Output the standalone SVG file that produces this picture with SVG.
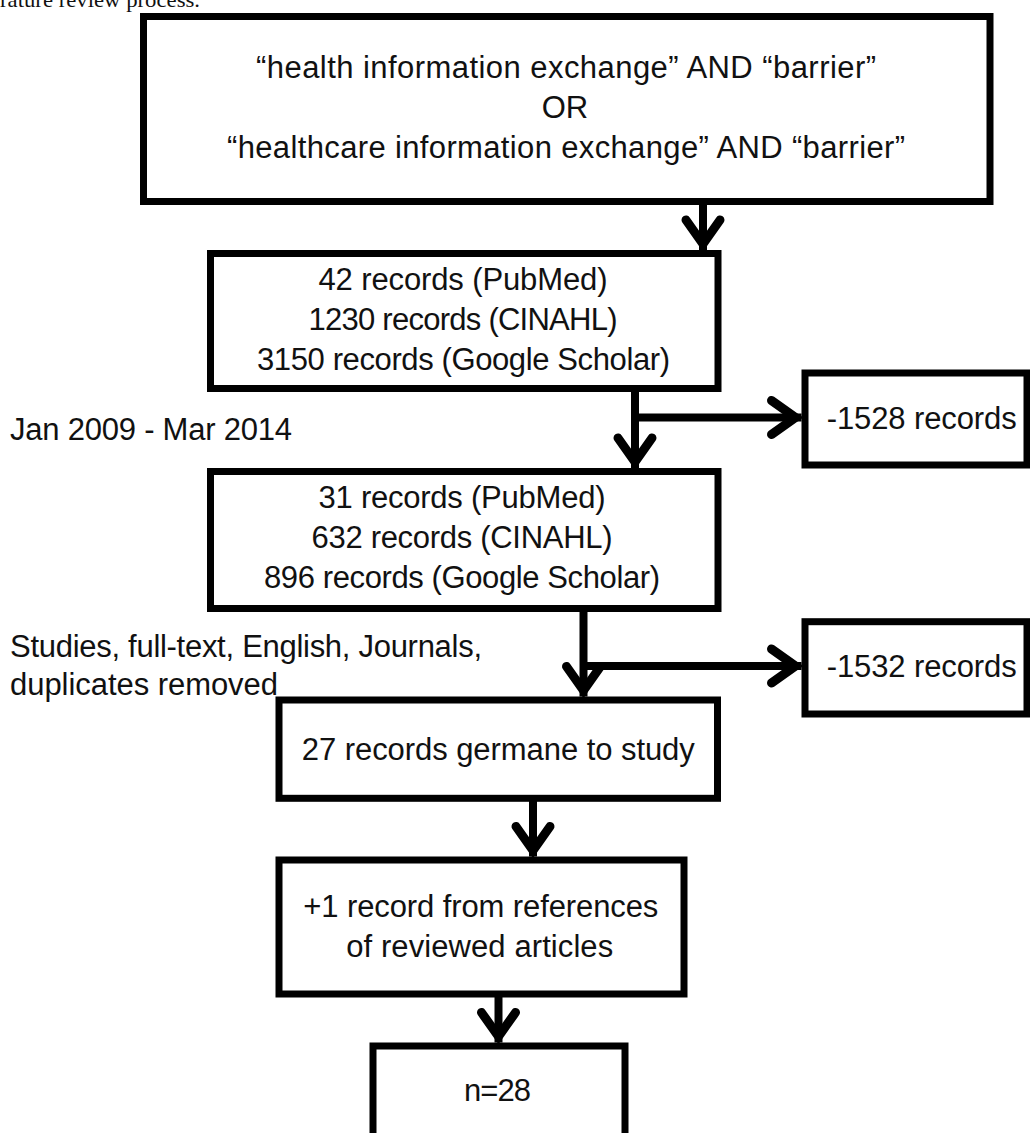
<svg xmlns="http://www.w3.org/2000/svg" width="1030" height="1133" viewBox="0 0 1030 1133">
  <style>
    .box { fill: #fff; stroke: #000; stroke-width: 7; }
    .t { font-family: "Liberation Sans", Arial, sans-serif; font-size: 31px; fill: #111; }
    .c { text-anchor: middle; }
    .cap { font-family: "Liberation Serif", "Times New Roman", serif; font-size: 21px; fill: #111; }
    .conn { fill: none; stroke: #000; stroke-width: 8; }
  </style>
  <defs>
    <marker id="arr" markerUnits="userSpaceOnUse" viewBox="-40 -30 50 60" markerWidth="50" markerHeight="60" refX="0" refY="0" orient="auto" overflow="visible">
      <path d="M-30,-17 L-6,0 L-30,17" fill="none" stroke="#000" stroke-width="9" stroke-linecap="round" stroke-linejoin="miter"/>
    </marker>
  </defs>

  <text class="cap" x="0" y="7" textLength="200" lengthAdjust="spacingAndGlyphs">rature review process.</text>

  <g id="connectors">
    <line class="conn" x1="703" y1="201.5" x2="703" y2="250" marker-end="url(#arr)"/>
    <line class="conn" x1="635" y1="388.5" x2="635" y2="468" marker-end="url(#arr)"/>
    <line class="conn" x1="635" y1="417.5" x2="801.5" y2="417.5" marker-end="url(#arr)"/>
    <line class="conn" x1="583.5" y1="608.5" x2="583.5" y2="696.5" marker-end="url(#arr)"/>
    <line class="conn" x1="583.5" y1="666" x2="801.5" y2="666" marker-end="url(#arr)"/>
    <line class="conn" x1="533" y1="798" x2="533" y2="856.5" marker-end="url(#arr)"/>
    <line class="conn" x1="498.5" y1="994" x2="498.5" y2="1042.5" marker-end="url(#arr)"/>
  </g>

  <g id="n-search">
    <rect class="box" x="143.5" y="16.5" width="846.5" height="185"/>
    <text class="t c" x="566" y="78" textLength="620">“health information exchange” AND “barrier”</text>
    <text class="t c" x="565" y="118">OR</text>
    <text class="t c" x="566" y="158" textLength="678">“healthcare information exchange” AND “barrier”</text>
  </g>

  <g id="n-records1">
    <rect class="box" x="210.5" y="253.5" width="507.5" height="135"/>
    <text class="t c" x="463" y="290" textLength="289">42 records (PubMed)</text>
    <text class="t c" x="463" y="330" textLength="309">1230 records (CINAHL)</text>
    <text class="t c" x="463.5" y="370" textLength="413">3150 records (Google Scholar)</text>
  </g>

  <g id="n-excl1">
    <rect class="box" x="805" y="373" width="222" height="92"/>
    <text class="t c" x="921.7" y="428.5" textLength="190">-1528 records</text>
  </g>

  <g id="l-date">
    <text class="t" x="10" y="440" textLength="282">Jan 2009 - Mar 2014</text>
  </g>

  <g id="n-records2">
    <rect class="box" x="210.5" y="471.5" width="507.5" height="137"/>
    <text class="t c" x="462" y="508" textLength="287">31 records (PubMed)</text>
    <text class="t c" x="462" y="548" textLength="301">632 records (CINAHL)</text>
    <text class="t c" x="462" y="588" textLength="396">896 records (Google Scholar)</text>
  </g>

  <g id="l-filter">
    <text class="t" x="10" y="657" textLength="472">Studies, full-text, English, Journals,</text>
    <text class="t" x="10" y="695" textLength="268">duplicates removed</text>
  </g>

  <g id="n-excl2">
    <rect class="box" x="805" y="621.7" width="222" height="92.3"/>
    <text class="t c" x="921.7" y="677" textLength="190">-1532 records</text>
  </g>

  <g id="n-germane">
    <rect class="box" x="279" y="700" width="438.5" height="98.3"/>
    <text class="t c" x="498.3" y="760" textLength="393">27 records germane to study</text>
  </g>

  <g id="n-plus1">
    <rect class="box" x="279" y="860" width="405" height="134"/>
    <text class="t c" x="480.8" y="916.7" textLength="355">+1 record from references</text>
    <text class="t c" x="479.7" y="956.7" textLength="267">of reviewed articles</text>
  </g>

  <g id="n-total">
    <rect class="box" x="373" y="1046" width="252" height="110"/>
    <text class="t c" x="497.5" y="1101" textLength="67">n=28</text>
  </g>
</svg>
